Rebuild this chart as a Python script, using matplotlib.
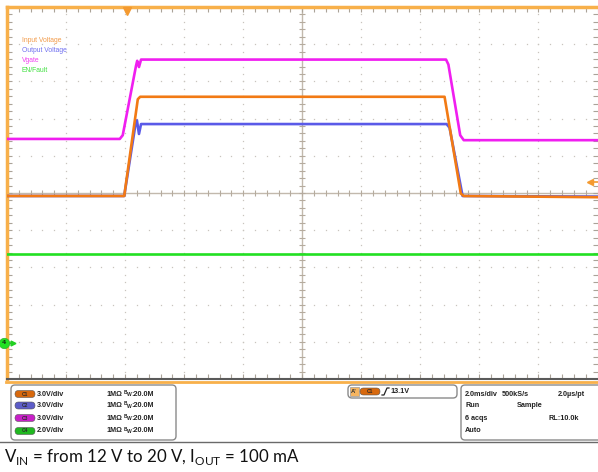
import numpy as np
import matplotlib.pyplot as plt
from matplotlib.patches import FancyBboxPatch, Rectangle
from matplotlib.lines import Line2D

W, H = 598, 472

# time in ms (0 = trigger), voltages in V
t_vin = [-4.07, -0.10, 0.36, 0.44, 10.75, 11.30, 11.40, 15.93]
v_vin = [12.0, 12.0, 19.8, 20.0, 20.0, 12.2, 12.0, 11.9]

t_vout = [-4.07, -0.10, 0.27, 0.33, 0.40, 0.47, 10.82, 10.92, 11.36, 15.93]
v_vout = [12.0, 12.0, 17.6, 18.1, 17.0, 17.8, 17.8, 17.5, 12.0, 11.95]

t_vgate = [-4.07, -0.25, -0.15, 0.30, 0.34, 0.40, 0.47, 10.80, 10.88, 11.28, 11.40, 15.93]
v_vgate = [16.6, 16.6, 16.9, 22.5, 22.9, 22.4, 23.0, 23.0, 22.6, 16.9, 16.5, 16.5]

t_en = [-4.07, 15.93]
v_en = [4.8, 4.8]

names = ['Input Voltage', 'Output Voltage', 'Vgate', 'EN/Fault']
ch_labels = ['C1', 'C2', 'C3', 'C4']
ch_vdiv = [3.0, 3.0, 3.0, 2.0]
ch_gnd = [-4.08, -4.08, -4.08, -4.03]   # ground level in divisions
trace_colors = ['#F27A14', '#5A5AE8', '#F01EF0', '#22E022']
text_colors = ['#F29A48', '#7070F0', '#F040F0', '#40E040']
pill_colors = ['#D8690E', '#5C5CC8', '#C820C8', '#20B820']

trig_level = 13.1
acq_info = [('2.0ms/div', '500kS/s', '2.0µs/pt'),
            ('Run', 'Sample', ''),
            ('6 acqs', '', 'RL:10.0k'),
            ('Auto', '', '')]

t_left = -4.07
ms_per_div = 2.0
px_ms = ms_per_div / 59.0
orange = '#F8B04A'
grid_c = '#c8c4be'

fig = plt.figure(figsize=(W / 100, H / 100), dpi=100)
ax = fig.add_axes([7 / W, (H - 379) / H, 590.5 / W, 372 / H])
ax.set_xlim(t_left, t_left + 10 * ms_per_div)
ax.set_ylim(-5, 5)

# graticule
for k in range(1, 10):
    if k == 5:
        continue
    ys = np.arange(-5, 5.01, 0.2)
    ax.plot([t_left + k * ms_per_div] * len(ys), ys, ls='none', marker='s',
            ms=0.9, mew=0, color=grid_c, zorder=1)
for j in range(-4, 5):
    if j == 0:
        continue
    xs = t_left + np.arange(0, 10.01, 0.2) * ms_per_div
    ax.plot(xs, [j] * len(xs), ls='none', marker='s', ms=0.9, mew=0,
            color=grid_c, zorder=1)
t_c = t_left + 5 * ms_per_div
ax.axvline(t_c, color='#c2b9ad', lw=1, zorder=1)
ax.axhline(0, color='#c2b9ad', lw=1, zorder=1)
ys = np.arange(-5, 5.01, 0.2)
ax.plot([t_c] * len(ys), ys, ls='none', marker='_', ms=4, mew=0.8,
        color='#b5ab9e', zorder=1)
xs = t_left + np.arange(0, 10.01, 0.2) * ms_per_div
ax.plot(xs, [0] * len(xs), ls='none', marker='|', ms=4, mew=0.8,
        color='#b5ab9e', zorder=1)

ax.set_xticks(xs)
ax.set_yticks(ys)
ax.tick_params(direction='in', length=3.5, width=0.8, color='#aaa398',
               top=True, right=True, labelbottom=False, labelleft=False)
for s in ['left', 'top']:
    ax.spines[s].set_color(orange)
    ax.spines[s].set_linewidth(2.5)
ax.spines['bottom'].set_color('#5a5a5a')
ax.spines['bottom'].set_linewidth(1.5)
ax.spines['right'].set_visible(False)

# traces
traces = [(t_vin, v_vin), (t_vout, v_vout), (t_vgate, v_vgate), (t_en, v_en)]
zorders = [6, 5, 4, 3]
for i, (t, v) in enumerate(traces):
    y = np.array(v) / ch_vdiv[i] + ch_gnd[i]
    ax.plot(t, y, color=trace_colors[i], lw=1.9, zorder=zorders[i],
            solid_joinstyle='round')

# trigger markers
ax.plot(0, 4.9, marker='v', ms=6, color='#F49A30', clip_on=False, zorder=8)
ty = trig_level / ch_vdiv[0] + ch_gnd[0]
ax.plot([t_left + 10 * ms_per_div - 6 * px_ms, t_left + 10 * ms_per_div],
        [ty, ty], color='#F49A30', lw=1.2, clip_on=False, zorder=8)
ax.plot(t_left + 10 * ms_per_div - 7 * px_ms, ty, marker='<', ms=4,
        color='#F49A30', clip_on=False, zorder=8)

# channel 4 ground marker
ax.plot([t_left - 3 * px_ms, t_left + 6 * px_ms], [ch_gnd[3]] * 2,
        color='#22D022', lw=1, clip_on=False, zorder=8)
ax.plot(t_left + 6 * px_ms, ch_gnd[3], marker='>', ms=3.5, color='#22D022',
        clip_on=False, zorder=8)
ax.plot(t_left - 3 * px_ms, ch_gnd[3], marker='o', ms=7.5, color='#22E022',
        mec='#30b030', mew=0.5, clip_on=False, zorder=9)
ax.text(t_left - 3 * px_ms, ch_gnd[3], '4', fontsize=4.5, ha='center',
        va='center', color='#104010', fontweight='bold', zorder=10)

# overlay in pixel coordinates for the scope chrome
ui = fig.add_axes([0, 0, 1, 1])
ui.set_xlim(0, W)
ui.set_ylim(H, 0)
ui.axis('off')

ui.add_line(Line2D([6, W], [381.5, 381.5], color=orange, lw=2))

lab_font = ['Liberation Sans', 'DejaVu Sans']
for i, name in enumerate(names):
    ui.text(22, 40 + i * 10, name, fontsize=4.9, color=text_colors[i],
            va='center', family=lab_font)

panel_font = ['Liberation Sans', 'DejaVu Sans']
box_kw = dict(boxstyle='round,pad=0,rounding_size=4', fc='white',
              ec='#8a8a8a', lw=1)
ui.add_patch(FancyBboxPatch((11, 385), 165, 55, **box_kw))
ui.add_patch(FancyBboxPatch((348, 385), 109, 13, **box_kw))
ui.add_patch(FancyBboxPatch((461, 385), 150, 55, **box_kw))

row_y = [394, 405.5, 418, 431]
fs = 5.2


def pill(x, y, label, color):
    ui.add_patch(FancyBboxPatch((x, y - 3.5), 20, 7,
                                boxstyle='round,pad=0,rounding_size=3.5',
                                fc=color, ec='#555555', lw=0.4))
    ui.text(x + 10, y, label, fontsize=3.5, ha='center', va='center',
            color='#2a2a2a', fontweight='bold', family=panel_font)


for i in range(4):
    y = row_y[i]
    pill(15, y, ch_labels[i], pill_colors[i])
    ui.text(37, y, f'{ch_vdiv[i]:.1f}V/div', fontsize=fs, va='center',
            fontweight='bold', color='#222222', family=panel_font)
    ui.text(106, y, '1MΩ', fontsize=fs, va='center', fontweight='bold',
            color='#222222', family=panel_font)
    ui.text(124, y - 1.8, 'B', fontsize=3.4, va='center', fontweight='bold',
            color='#222222', family=panel_font)
    ui.text(127, y + 0.6, 'W', fontsize=3.6, va='center', fontweight='bold',
            color='#222222', family=panel_font)
    ui.text(131.5, y, ':20.0M', fontsize=fs, va='center', fontweight='bold',
            color='#222222', family=panel_font)

# trigger box
ui.add_patch(Rectangle((350, 387), 8.5, 9, fc='#F6B560', ec='#999999', lw=0.5))
ui.text(354.2, 391.5, "A'", fontsize=4.2, ha='center', va='center',
        fontweight='bold', color='#333333', family=panel_font)
pill(360, 391.5, ch_labels[0], pill_colors[0])
ui.add_line(Line2D([382, 384, 387, 389], [395, 395, 388, 388],
                   color='#222222', lw=0.9))
ui.text(390, 391.5, f'{trig_level}V', fontsize=fs, va='center',
        fontweight='bold', color='#222222', family=panel_font)

for i, (a, b, c) in enumerate(acq_info):
    y = row_y[i]
    ui.text(465, y, a, fontsize=fs, va='center', fontweight='bold',
            color='#222222', family=panel_font)
    if b:
        bx = 502 if i == 0 else 517
        ui.text(bx, y, b, fontsize=fs, va='center', fontweight='bold',
                color='#222222', family=panel_font)
    if c:
        cx = 585 if i == 0 else 579
        ui.text(cx, y, c, fontsize=fs, va='center', ha='right',
                fontweight='bold', color='#222222', family=panel_font)

ui.add_line(Line2D([0, W], [441.5, 441.5], color='#6a6a6a', lw=1))

plt.rcParams['mathtext.fontset'] = 'custom'
plt.rcParams['mathtext.rm'] = 'Lato'
ui.text(4, 462, r'V$_{\mathregular{IN}}$ = from 12 V to 20 V, I$_{\mathregular{OUT}}$ = 100 mA',
        fontsize=12.2, va='baseline', family='Lato', color='#111111')

fig.savefig('out.png', dpi=100)
